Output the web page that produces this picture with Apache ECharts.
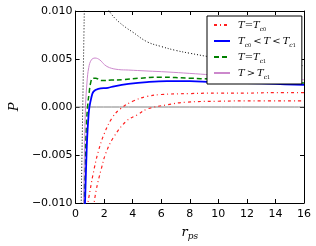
<!DOCTYPE html>
<html>
<head>
<meta charset="utf-8">
<script src="https://cdn.jsdelivr.net/npm/echarts@6/dist/echarts.min.js"></script>
<style>html,body{margin:0;padding:0;background:#fff}#c{width:316px;height:246px}</style>
</head>
<body>
<div id="c"></div>
<script>
// x ticks / y ticks
var xTicks = [0, 2, 4, 6, 8, 10, 12, 14, 16];
var yTicks = [-0.010, -0.005, 0.000, 0.005, 0.010];

// T = Tc0 (two red dash-dot curves)
var red1X = [0.80, 1.00, 1.25, 1.56, 2.00, 2.57, 3.13, 4.00, 5.00, 6.00, 8.00, 10.0, 12.0, 14.0, 16.0];
var red1Y = [-0.0105, -0.0088, -0.0068, -0.0048, -0.0028, -0.0011, -0.0002, 0.0006, 0.0011, 0.0013, 0.0014, 0.00145, 0.00145, 0.0015, 0.0015];
var red2X = [1.25, 1.45, 1.79, 2.12, 2.68, 3.57, 4.36, 5.03, 6.40, 7.70, 10.0, 12.0, 16.0];
var red2Y = [-0.0105, -0.0086, -0.0065, -0.0048, -0.0031, -0.00145, -0.00078, -0.0002, 0.00023, 0.0005, 0.0006, 0.00064, 0.00064];

// Tc0 < T < Tc1 (blue)
var blueX = [0.64, 0.72, 0.80, 0.90, 0.96, 1.09, 1.25, 1.59, 2.26, 2.70, 3.70, 5.00, 6.40, 8.00, 9.50, 12.0, 14.0, 16.0];
var blueY = [-0.011, -0.007, -0.0035, -0.001, -0.0001, 0.0009, 0.0016, 0.0019, 0.0020, 0.00216, 0.0024, 0.0026, 0.0027, 0.0027, 0.0026, 0.0025, 0.0024, 0.0023];

// T = Tc1 (green dashed)
var greenX = [0.58, 0.66, 0.75, 0.85, 0.95, 1.05, 1.20, 1.40, 1.80, 2.50, 3.35, 4.50, 6.00, 8.00, 9.50, 12.0, 14.0, 16.0];
var greenY = [-0.011, -0.006, -0.002, 0.0002, 0.0015, 0.0025, 0.0030, 0.0030, 0.00275, 0.0028, 0.00285, 0.0030, 0.0031, 0.0030, 0.0029, 0.0027, 0.0026, 0.0025];

// T > Tc1 (violet)
var pinkX = [0.55, 0.62, 0.69, 0.80, 0.92, 1.10, 1.36, 1.70, 2.03, 2.37, 3.00, 3.70, 5.00, 6.40, 8.00, 9.50, 12.0, 14.0, 16.0];
var pinkY = [-0.011, -0.005, -0.0001, 0.0026, 0.0041, 0.0049, 0.0051, 0.0049, 0.0044, 0.0041, 0.0039, 0.00385, 0.00375, 0.00365, 0.0035, 0.00335, 0.0031, 0.0030, 0.00284];

// black dotted (no legend)
var dot1X = [0.38, 0.62];
var dot1Y = [-0.011, 0.011];
var dot2X = [2.30, 2.60, 3.00, 3.50, 4.00, 5.00, 6.00, 7.00, 8.00, 9.50, 11.0, 13.0, 16.0];
var dot2Y = [0.0101, 0.0095, 0.0089, 0.0083, 0.0078, 0.0068, 0.0063, 0.0059, 0.0056, 0.0052, 0.0049, 0.0046, 0.0043];

function pairs(xs, ys) { return xs.map(function (x, i) { return [x, ys[i]]; }); }

var chart = echarts.init(document.getElementById('c'), null, {renderer: 'canvas'});
var tickFont = {fontFamily: 'DejaVu Sans', fontSize: 11, color: '#000'};
function yfmt(v) {
  if (Math.abs(v) < 1e-9) return '0.000';
  return v < 0 ? '\u2212' + (-v).toFixed(3) : v.toFixed(3);
}
var axLine = {show: true, onZero: false, lineStyle: {color: '#000', width: 1}};
var tick = {show: true, inside: true, length: 4, lineStyle: {color: '#000', width: 1}};

function lineSeries(name, xs, ys, color, width, type, z) {
  return {
    type: 'line', name: name, data: pairs(xs, ys), showSymbol: false, symbol: 'none',
    smooth: 0.4, clip: true, z: z || 2,
    lineStyle: {color: color, width: width, type: type},
    itemStyle: {color: color}
  };
}

var zeroSeries = lineSeries('zero', [0, 16], [0, 0], '#808080', 1, 'solid', 1);

var rich = {
  g: {width: 3, fontSize: 10},
  t: {fontFamily: 'DejaVu Serif', fontStyle: 'italic', fontSize: 10, color: '#000', lineHeight: 14},
  o: {fontFamily: 'DejaVu Serif', fontSize: 10, color: '#000', lineHeight: 14},
  sp: {width: 2, fontSize: 10},
  s: {fontFamily: 'DejaVu Serif', fontStyle: 'italic', fontSize: 6, color: '#000', verticalAlign: 'bottom', lineHeight: 14, padding: [5, 0, 0, 0]},
  ss: {fontFamily: 'DejaVu Serif', fontSize: 5, color: '#000', verticalAlign: 'bottom', lineHeight: 14, padding: [8, 0, 0, 0]}
};
var legendText = {
  'T=Tc0': '{g|}{t|T}{o|=}{t|T}{s|c}{ss|0}',
  'Tc0<T<Tc1': '{g|}{t|T}{s|c}{ss|0}{sp|}{o|<}{sp|}{t|T}{sp|}{o|<}{sp|}{t|T}{s|c}{ss|1}',
  'T=Tc1': '{g|}{t|T}{o|=}{t|T}{s|c}{ss|1}',
  'T>Tc1': '{g|}{t|T}{sp|}{o|>}{sp|}{t|T}{s|c}{ss|1}'
};

var option = {
  animation: false,
  backgroundColor: '#fff',
  grid: {left: 65, right: 12, top: 11, bottom: 38},
  legend: {
    data: ['T=Tc0', 'Tc0<T<Tc1', 'T=Tc1', 'T>Tc1'],
    orient: 'vertical', left: 207, top: 16,
    padding: [3, 6, 4, 6],
    itemWidth: 16, itemHeight: 10, itemGap: 3,
    backgroundColor: '#fff', borderColor: '#000', borderWidth: 1,
    itemStyle: {opacity: 0},
    formatter: function (n) { return legendText[n]; },
    textStyle: {rich: rich}
  },
  xAxis: [{
    type: 'value', min: 0, max: 16, interval: 2, position: 'bottom',
    axisLine: axLine, axisTick: tick, splitLine: {show: false},
    axisLabel: Object.assign({margin: 6}, tickFont),
    name: '{r|r}{p|ps}', nameLocation: 'middle', nameGap: 22,
    nameTextStyle: {rich: {
      r: {fontFamily: 'DejaVu Serif', fontStyle: 'italic', fontSize: 13, color: '#000', lineHeight: 16},
      p: {fontFamily: 'DejaVu Serif', fontStyle: 'italic', fontSize: 9, color: '#000', verticalAlign: 'bottom', lineHeight: 16, padding: [6, 0, 0, 0]}
    }}
  }, {
    type: 'value', min: 0, max: 16, interval: 2, position: 'top',
    axisLine: axLine, axisTick: tick, axisLabel: {show: false}, splitLine: {show: false}
  }],
  yAxis: [{
    type: 'value', min: -0.01, max: 0.01, interval: 0.005, position: 'left',
    axisLine: axLine, axisTick: tick, splitLine: {show: false},
    axisLabel: Object.assign({margin: 3, formatter: yfmt}, tickFont),
    name: 'P', nameLocation: 'middle', nameGap: 49, nameRotate: 90,
    nameTextStyle: {fontFamily: 'DejaVu Serif', fontStyle: 'italic', fontSize: 13, color: '#000'}
  }, {
    type: 'value', min: -0.01, max: 0.01, interval: 0.005, position: 'right',
    axisLine: axLine, axisTick: tick, axisLabel: {show: false}, splitLine: {show: false}
  }],
  series: [
    zeroSeries,
    lineSeries('dot1', dot1X, dot1Y, '#000', 1, [1, 2]),
    lineSeries('dot2', dot2X, dot2Y, '#000', 1, [1, 2]),
    lineSeries('T=Tc0', red1X, red1Y, '#ff2020', 1.2, [3, 3, 1, 3]),
    lineSeries('T=Tc0', red2X, red2Y, '#ff2020', 1.2, [3, 3, 1, 3]),
    lineSeries('Tc0<T<Tc1', blueX, blueY, '#0000ff', 1.8, 'solid', 3),
    lineSeries('T=Tc1', greenX, greenY, '#008000', 1.5, [5, 3]),
    lineSeries('T>Tc1', pinkX, pinkY, '#cc88cc', 1, 'solid')
  ]
};
chart.setOption(option);
</script>
</body>
</html>
